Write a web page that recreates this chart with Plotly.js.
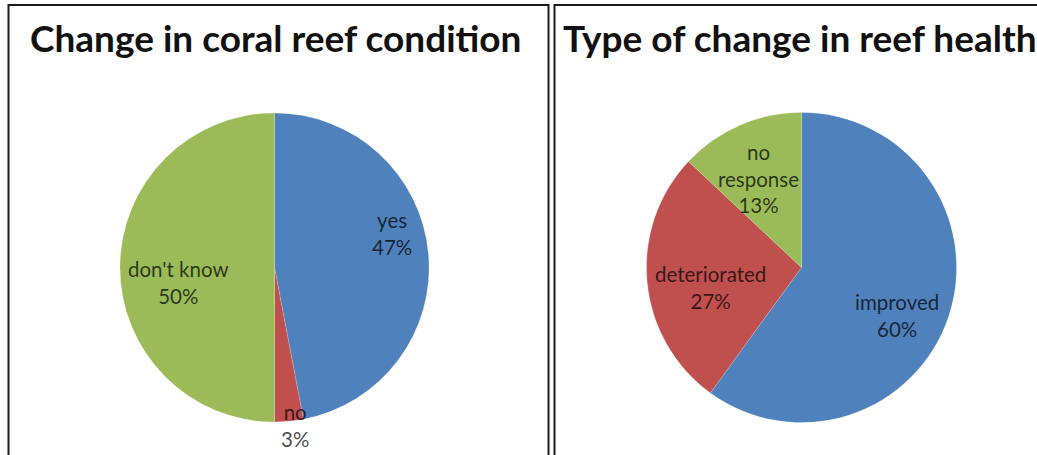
<!DOCTYPE html>
<html>
<head>
<meta charset="utf-8">
<script src="https://cdn.plot.ly/plotly-3.0.1.min.js"></script>
<style>html,body{margin:0;padding:0;background:#fff;}#chart{width:1037px;height:455px;}</style>
</head>
<body>
<div id="chart"></div>
<script>
// ---- data ----
const titleLeft = "Change in coral reef condition";
const titleRight = "Type of change in reef health";
const conditionLabels = ["yes", "no", "don't know"];
const conditionValues = [47, 3, 50];
const healthLabels = ["improved", "deteriorated", "no response"];
const healthLabelText = ["improved", "deteriorated", "no<br>response"];
const healthValues = [60, 27, 13];

// ---- style / placement ----
const sliceColors = ["#4F81BD", "#C0504D", "#9BBB59"];
const W = 1037, H = 455;
const fontFam = "Lato, 'Open Sans', sans-serif";
const labelColor = "rgba(0,0,0,0.72)";
const leftPie = {cx: 274.5, cy: 267.5, r: 154.5};
const rightPie = {cx: 801.5, cy: 267.5, r: 155};
// label placement: [angle adjust (deg), radial factor]
const leftPlace = [[-11, 0.79], [-2, 1.03], [-9, 0.63]];
const rightPlace = [[8.4, 0.69], [-6.9, 0.60], [-2.2, 0.635]];

function pieTrace(labels, values, g) {
  return {
    type: "pie",
    labels: labels,
    values: values,
    sort: false,
    direction: "clockwise",
    rotation: 0,
    marker: {colors: sliceColors, line: {color: "rgba(255,255,255,0.35)", width: 0.5}},
    textinfo: "none",
    hoverinfo: "label+percent",
    showlegend: false,
    automargin: false,
    domain: {x: [(g.cx - g.r) / W, (g.cx + g.r) / W], y: [1 - (g.cy + g.r) / H, 1 - (g.cy - g.r) / H]}
  };
}

function pieLabels(texts, values, g, place) {
  const total = values.reduce((a, b) => a + b, 0);
  let cum = 0;
  return values.map((v, i) => {
    const mid = (cum + v / 2) / total * 360;
    cum += v;
    const ang = (mid + place[i][0]) * Math.PI / 180;
    const d = place[i][1] * g.r;
    const px = g.cx + d * Math.sin(ang);
    const py = g.cy - d * Math.cos(ang);
    const pct = Math.round(v / total * 100) + "%";
    return {
      text: texts[i] + "<br>" + pct,
      xref: "paper", yref: "paper", x: px / W, y: 1 - py / H,
      xanchor: "center", yanchor: "middle", align: "center", showarrow: false,
      font: {family: fontFam, size: 20.5, color: labelColor}
    };
  });
}

const data = [
  pieTrace(conditionLabels, conditionValues, leftPie),
  pieTrace(healthLabels, healthValues, rightPie)
];

const titleAnn = (t, x) => ({
  text: "<b>" + t + "</b>", xref: "paper", yref: "paper", x: x / W, y: 1 - 37 / H,
  xanchor: "left", yanchor: "middle", showarrow: false,
  font: {family: fontFam, size: 37, color: "#111111"}
});

const layout = {
  width: W, height: H,
  margin: {l: 0, r: 0, t: 0, b: 0},
  paper_bgcolor: "#ffffff",
  showlegend: false,
  shapes: [
    {type: "rect", xref: "paper", yref: "paper", x0: 8.5 / W, x1: 548.5 / W, y0: -0.05, y1: 1 - 5 / H,
     line: {color: "#1a1a1a", width: 2}},
    {type: "rect", xref: "paper", yref: "paper", x0: 554.5 / W, x1: 1.05, y0: -0.05, y1: 1 - 5 / H,
     line: {color: "#1a1a1a", width: 2}}
  ],
  annotations: [titleAnn(titleLeft, 28), titleAnn(titleRight, 561)]
    .concat(pieLabels(conditionLabels, conditionValues, leftPie, leftPlace))
    .concat(pieLabels(healthLabelText, healthValues, rightPie, rightPlace))
};

Plotly.newPlot("chart", data, layout, {staticPlot: true, displayModeBar: false});
</script>
</body>
</html>
